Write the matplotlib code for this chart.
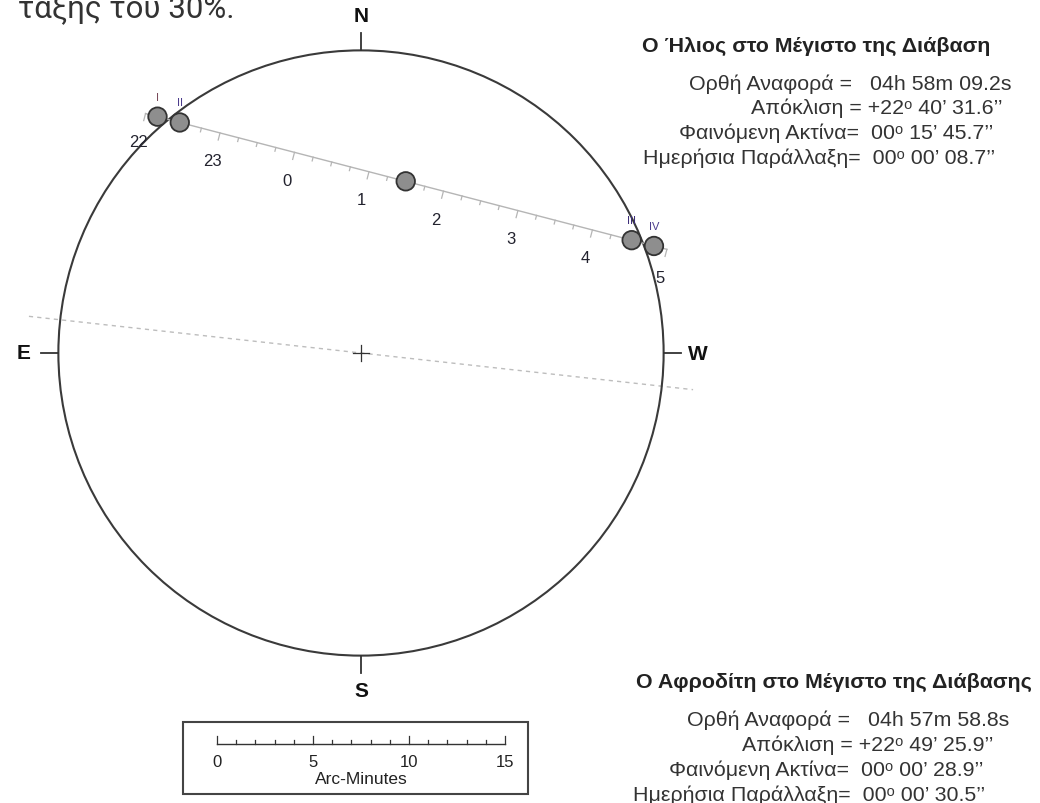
import numpy as np
import matplotlib
matplotlib.use("Agg")
import matplotlib.pyplot as plt
from matplotlib.patches import Circle, Rectangle

# --- data (arc-minutes / hours UT) ---
SUN_RADIUS = 15 + 45.7 / 60            # 00° 15' 45.7"
VENUS_RADIUS = 28.9 / 60               # 00° 00' 28.9"
MIN_SEPARATION = 9.24                  # arcmin at greatest transit
PATH_ANGLE = -14.6                     # deg, Venus track on the chart
ECLIPTIC_ANGLE = -6.3                  # deg, dashed ecliptic
T_MID = 1 + 29 / 60 + 36 / 3600        # greatest transit 01:29:36
contact_names = ["I", "II", "III", "IV"]
contact_times = [-(1 + 50 / 60 + 22 / 3600),   # 22:09:38
                 -(1 + 32 / 60 + 26 / 3600),   # 22:27:34
                 4 + 31 / 60 + 38 / 3600,      # 04:31:38
                 4 + 49 / 60 + 35 / 3600]      # 04:49:35
hour_ticks = [-2, -1, 0, 1, 2, 3, 4, 5]
hour_labels = ["22", "23", "0", "1", "2", "3", "4", "5"]
scale_ticks = list(range(0, 16))
scale_labels = [0, 5, 10, 15]
compass = [("N", 90), ("E", 180), ("W", 0), ("S", 270)]

sun_lines = ["Ορθή Αναφορά =   04h 58m 09.2s",
             "Απόκλιση = +22ᵒ 40’ 31.6’’",
             "Φαινόμενη Ακτίνα=  00ᵒ 15’ 45.7’’",
             "Ημερήσια Παράλλαξη=  00ᵒ 00’ 08.7’’"]
venus_lines = ["Ορθή Αναφορά =   04h 57m 58.8s",
               "Απόκλιση = +22ᵒ 49’ 25.9’’",
               "Φαινόμενη Ακτίνα=  00ᵒ 00’ 28.9’’",
               "Ημερήσια Παράλλαξη=  00ᵒ 00’ 30.5’’"]

# --- layout in pixels ---
W, H = 1040, 804
PX = 19.2                 # pixels per arc-minute
CX, CY = 361, 354         # sun centre in pixels
FONT = ["Liberation Sans", "DejaVu Sans"]

fig = plt.figure(figsize=(W / 100, H / 100), dpi=100)
ax = fig.add_axes([0, 0, 1, 1])
ax.set_xlim(-CX / PX, (W - CX) / PX)
ax.set_ylim(-(H - CY) / PX, CY / PX)
ax.axis("off")

# sun limb + centre cross
ax.add_patch(Circle((0, 0), SUN_RADIUS, fill=False, ec="#3a3a3a", lw=1.5, zorder=2))
ax.plot([-0.4, 0.4], [0, 0], color="#333", lw=0.9)
ax.plot([0, 0], [-0.4, 0.4], color="#333", lw=0.9)

# compass ticks and letters
for lab, ang in compass:
    a = np.radians(ang)
    ux, uy = np.cos(a), np.sin(a)
    ax.plot([SUN_RADIUS * ux, (SUN_RADIUS + 0.9) * ux],
            [SUN_RADIUS * uy, (SUN_RADIUS + 0.9) * uy], color="#333", lw=1.3)
    r = SUN_RADIUS + 1.8
    ax.text(r * ux, r * uy, lab, ha="center", va="center", fontsize=15,
            fontweight="bold", family=FONT, color="#111")

# ecliptic
e = np.radians(ECLIPTIC_ANGLE)
ax.plot([-17.4 * np.cos(e), 17.4 * np.cos(e)], [-17.4 * np.sin(e), 17.4 * np.sin(e)],
        color="#bdbdbd", lw=1.0, ls=(0, (3, 3)), zorder=1)

# venus track
th = np.radians(PATH_ANGLE)
d = np.array([np.cos(th), np.sin(th)])
n = np.array([-np.sin(th), np.cos(th)])
p0 = MIN_SEPARATION * n
speed = np.sqrt((SUN_RADIUS + VENUS_RADIUS) ** 2 - MIN_SEPARATION ** 2) / (T_MID - contact_times[0])


def pos(t):
    return p0 + speed * (t - T_MID) * d


a, b = pos(hour_ticks[0]), pos(hour_ticks[-1])
ax.plot([a[0], b[0]], [a[1], b[1]], color="#b5b5b5", lw=1.0, zorder=3)
for t in np.arange(hour_ticks[0], hour_ticks[-1] + 0.01, 0.25):
    p = pos(t)
    ln = 0.38 if abs(t - round(t)) < 1e-6 else 0.2
    q = p - ln * n
    ax.plot([p[0], q[0]], [p[1], q[1]], color="#b5b5b5", lw=0.9, zorder=3)
for t, lab in zip(hour_ticks, hour_labels):
    p = pos(t) - 1.5 * n
    ax.text(p[0], p[1], lab, ha="center", va="center", fontsize=12,
            family=FONT, color="#22222e", zorder=4)

# venus disks: contacts + greatest transit
for t in contact_times + [T_MID]:
    p = pos(t)
    ax.add_patch(Circle(p, VENUS_RADIUS, fc="#8e8e8e", ec="#333", lw=1.3, zorder=5))
label_cols = ["#7a4a5a", "#4b3c8c", "#3e2f7a", "#4b3c8c"]
for name, t, c in zip(contact_names, contact_times, label_cols):
    p = pos(t)
    ax.text(p[0], p[1] + 1.05, name, ha="center", va="center", fontsize=8,
            family=FONT, color=c, zorder=6)

# scale bar
ax.add_patch(Rectangle((-9.27, -22.97), 17.97, 3.75, fill=False, ec="#444", lw=1.5))
y0 = -20.36
ax.plot([0 - 7.5, 15 - 7.5], [y0, y0], color="#333", lw=1.0)
for s in scale_ticks:
    h = 0.4 if s % 5 == 0 else 0.2
    ax.plot([s - 7.5, s - 7.5], [y0, y0 + h], color="#333", lw=0.9)
for s in scale_labels:
    ax.text(s - 7.5, -21.3, str(s), ha="center", va="center", fontsize=12,
            family=FONT, color="#222")
ax.text(0, -22.15, "Arc-Minutes", ha="center", va="center", fontsize=12.5,
        family=FONT, color="#222")

# text blocks (pixel positions -> figure fraction)
def ftext(x, y, s, **kw):
    fig.text(x / W, 1 - y / H, s, ha="left", va="baseline", family=FONT, **kw)


fig.text(18 / W, 1 - 17 / H, "τάξης του 30%.", ha="left", va="baseline",
         fontsize=22.5, family=["Roboto", "DejaVu Sans"], color="#333")

ftext(642, 52, "Ο Ήλιος στο Μέγιστο της Διάβαση", fontsize=15.4, fontweight="bold", color="#222")
for x, y, s in zip([689, 751, 679, 643], [90, 114.5, 139, 163.5], sun_lines):
    ftext(x, y, s, fontsize=15.4, color="#333")

ftext(636, 688, "Ο Αφροδίτη στο Μέγιστο της Διάβασης", fontsize=15.4, fontweight="bold", color="#222")
for x, y, s in zip([687, 742, 669, 633], [726, 751, 776, 801], venus_lines):
    ftext(x, y, s, fontsize=15.4, color="#333")

fig.savefig("out.png", dpi=100)
